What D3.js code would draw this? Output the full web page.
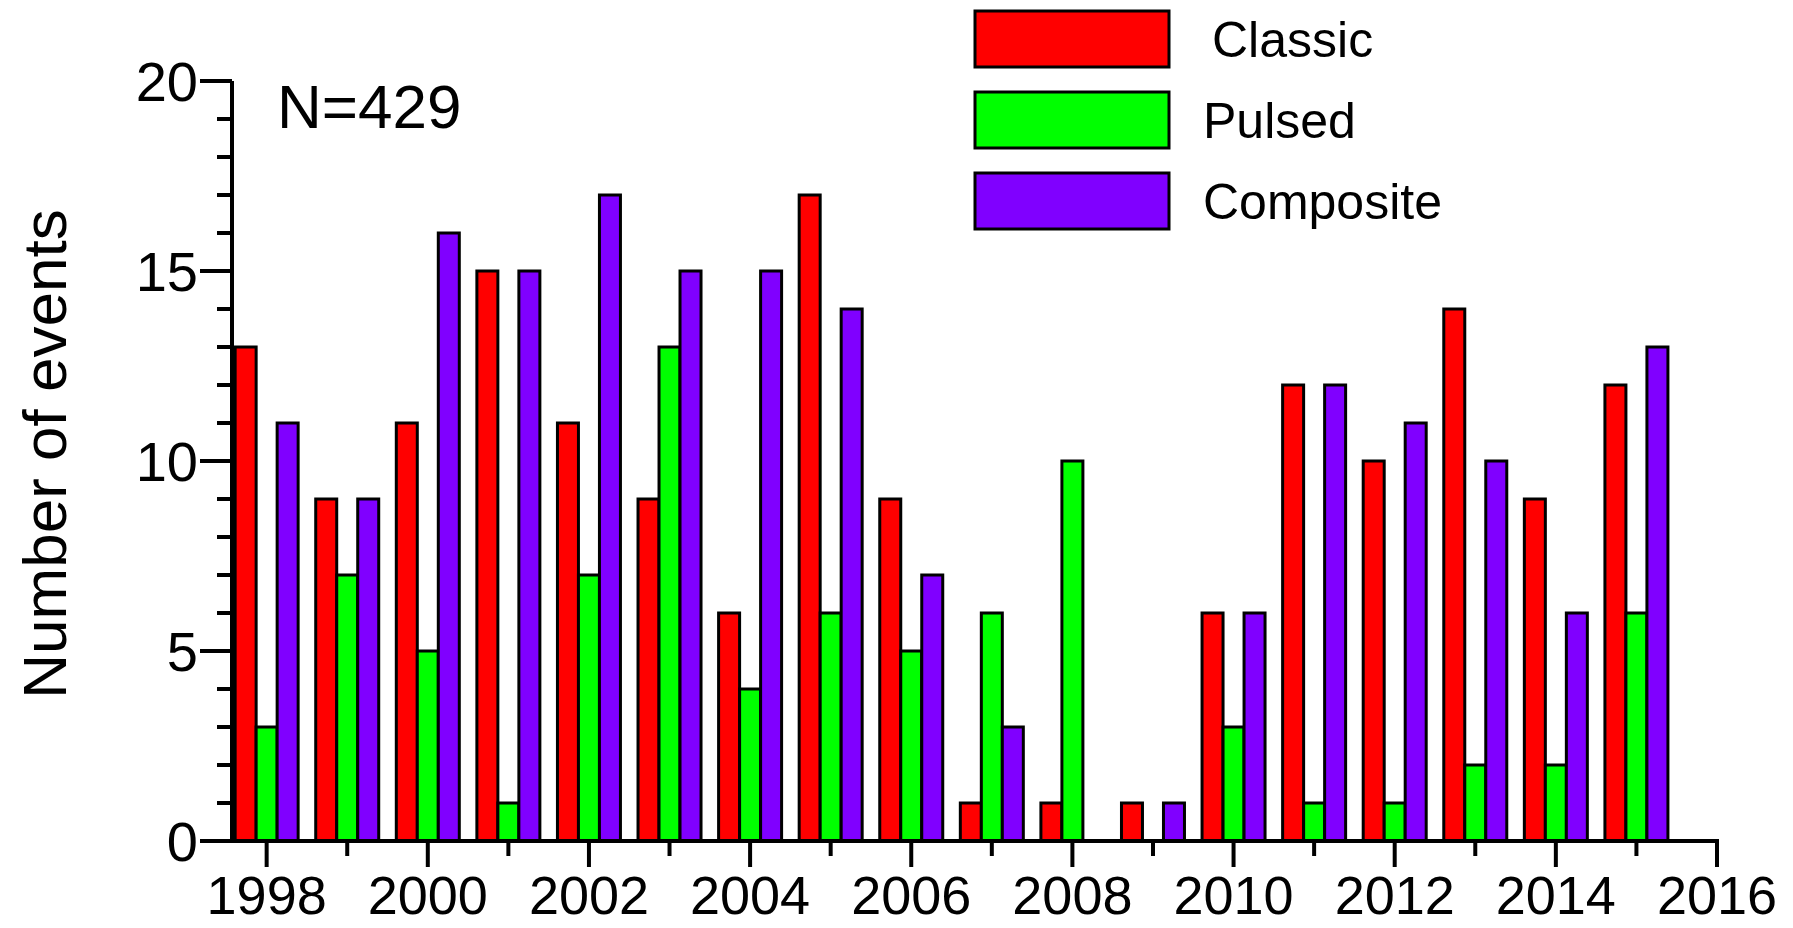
<!DOCTYPE html>
<meta charset="utf-8">
<html>
<body style="margin:0;background:#fff">
<script src="https://d3js.org/d3.v7.min.js"></script>
<script>
var years = d3.range(1998, 2016);
var classic = [13, 9, 11, 15, 11, 9, 6, 17, 9, 1, 1, 1, 6, 12, 10, 14, 9, 12];
var pulsed = [3, 7, 5, 1, 7, 13, 4, 6, 5, 6, 10, 0, 3, 1, 1, 2, 2, 6];
var composite = [11, 9, 16, 15, 17, 15, 15, 14, 7, 3, 0, 1, 6, 12, 11, 10, 6, 13];
var seriesNames = ["Classic", "Pulsed", "Composite"];
var colors = ["#ff0000", "#00ff00", "#8000ff"];
var series = [classic, pulsed, composite];

var svg = d3.select("body").append("svg").attr("width", 1793).attr("height", 928)
  .style("font-family", "Arial, 'Liberation Sans', sans-serif");

var x = d3.scaleLinear().domain([1997.57, 2016]).range([232, 1717]);
var y = d3.scaleLinear().domain([0, 20]).range([841, 81]);
var bw = 21;

// bars (zero values are not drawn)
series.forEach(function (s, k) {
  var pts = s.map(function (v, i) { return { year: years[i], v: v }; })
    .filter(function (d) { return d.v > 0; });
  svg.append("g").selectAll("rect").data(pts).join("rect")
    .attr("x", function (d) { return x(d.year) + (k - 1) * bw - bw / 2; })
    .attr("y", function (d) { return y(d.v); })
    .attr("width", bw)
    .attr("height", function (d) { return y(0) - y(d.v); })
    .attr("fill", colors[k]).attr("stroke", "#000").attr("stroke-width", 3);
});

// y axis
var g = svg.append("g").attr("stroke", "#000").attr("stroke-width", 4);
g.append("line").attr("x1", 232).attr("x2", 232).attr("y1", y(0) + 2).attr("y2", y(20));
d3.range(0, 21).forEach(function (v) {
  g.append("line").attr("x1", v % 5 === 0 ? 200 : 217).attr("x2", 232).attr("y1", y(v)).attr("y2", y(v));
});
svg.selectAll(".yl").data([0, 5, 10, 15, 20]).join("text")
  .attr("x", 198).attr("y", function (d) { return y(d) + 20; })
  .attr("text-anchor", "end").attr("font-size", 56).text(function (d) { return d; });

// x axis
g.append("line").attr("x1", 230).attr("x2", 1719).attr("y1", y(0)).attr("y2", y(0));
d3.range(1998, 2017).forEach(function (v) {
  g.append("line").attr("x1", x(v)).attr("x2", x(v)).attr("y1", y(0)).attr("y2", y(0) + (v % 2 === 0 ? 26 : 15));
});
svg.selectAll(".xl").data(d3.range(1998, 2017, 2)).join("text")
  .attr("x", function (d) { return x(d); }).attr("y", 914)
  .attr("text-anchor", "middle").attr("font-size", 54).text(function (d) { return d; });

// y label
svg.append("text").attr("transform", "translate(66,454) rotate(-90)")
  .attr("text-anchor", "middle").attr("font-size", 62).text("Number of events");

svg.append("text").attr("x", 277).attr("y", 128).attr("font-size", 62).text("N=429");

// legend
seriesNames.forEach(function (n, k) {
  var ly = 11 + k * 81;
  svg.append("rect").attr("x", 975).attr("y", ly).attr("width", 194).attr("height", 56)
    .attr("fill", colors[k]).attr("stroke", "#000").attr("stroke-width", 3);
  svg.append("text").attr("x", k === 0 ? 1212 : 1203).attr("y", ly + 46).attr("font-size", 50).text(n);
});
</script>
</body>
</html>
